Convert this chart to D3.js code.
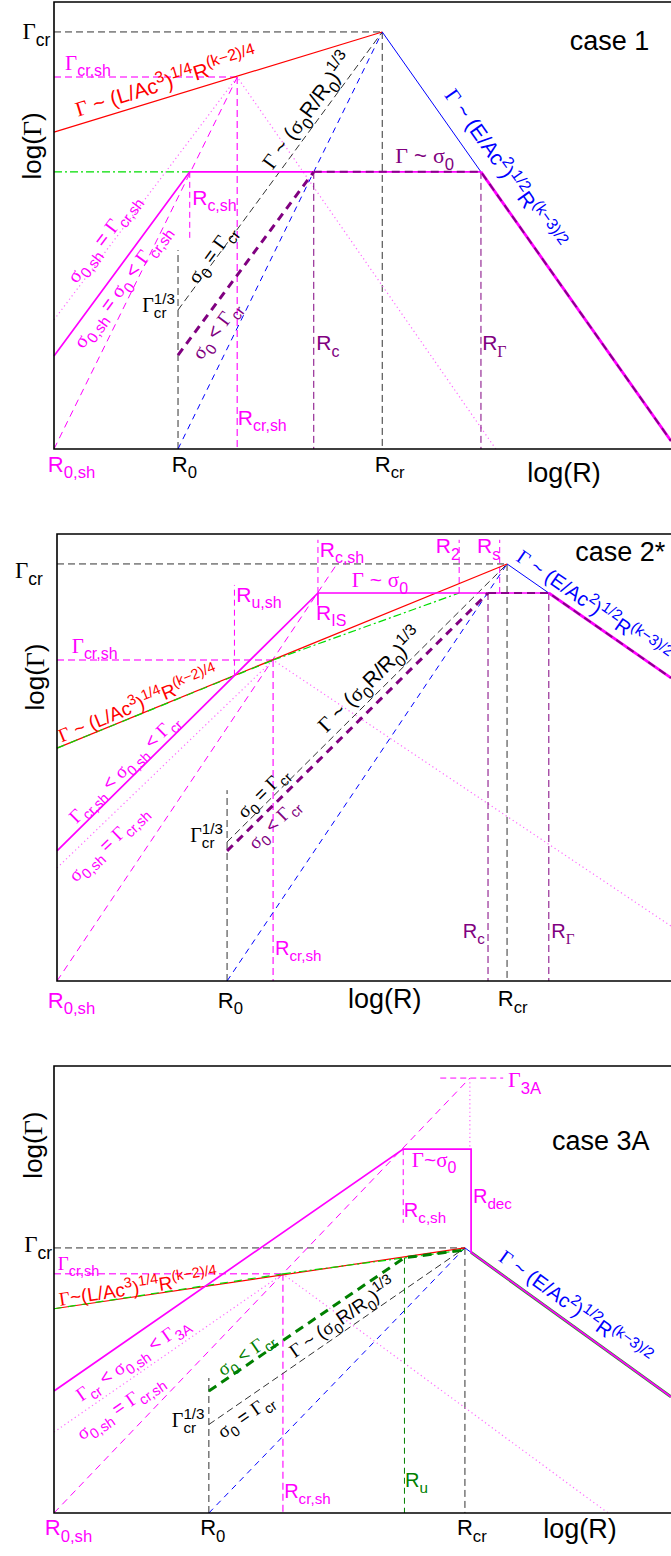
<!DOCTYPE html>
<html>
<head>
<meta charset="utf-8">
<script src="https://d3js.org/d3.v7.min.js"></script>
<style>
  body { margin: 0; background: #fff; }
  text { font-family: "Liberation Sans", Arial, sans-serif; white-space: pre; }
</style>
</head>
<body>
<script>
// schematic log(R) / log(Gamma) coordinates, 0..10 on both axes of each panel

// [key, style, points]
const case1Lines = [
  ['gcr', 'blackDash', [[0, 9.33], [5.32, 9.33]]],
  ['rcrV', 'blackDash', [[5.32, 9.33], [5.32, 0]]],
  ['gcrsh', 'pinkDash', [[0, 8.32], [2.97, 8.32]]],
  ['rcrshV', 'pinkDash', [[2.97, 8.32], [2.97, 0]]],
  ['rcshV', 'pinkDashThin', [[2.20, 6.20], [2.20, 4.68]]],
  ['green', 'greenDashDot', [[0, 6.20], [2.20, 6.20]]],
  ['dotted', 'magDot', [[0, 2.89], [2.97, 8.32], [7.16, 0]]],
  ['magDash', 'magDash', [[0, 0], [2.97, 8.32]]],
  ['r0V', 'blackDash', [[2.01, 0], [2.01, 4.45]]],
  ['blueDash', 'blueDash', [[2.01, 0], [5.32, 9.33]]],
  ['blackDiag', 'blackDash', [[2.01, 3.11], [5.32, 9.33]]],
  ['rcV', 'purpleDash', [[4.21, 6.20], [4.21, 0]]],
  ['rgV', 'purpleDash', [[6.92, 6.20], [6.92, 0]]],
  ['red', 'red', [[0, 7.09], [5.32, 9.33]]],
  ['blue', 'blue', [[5.32, 9.33], [6.92, 6.20], [10, 0.18]]],
  ['mag', 'magSolid', [[0, 2.08], [2.20, 6.20], [6.92, 6.20]]],
  ['magDesc', 'magThick', [[6.92, 6.20], [10, 0.18]]],
  ['purpleThick', 'purpleThick', [[2.01, 2.10], [4.21, 6.20]]],
  ['purpleOn', 'purpleOn', [[4.21, 6.20], [6.92, 6.20], [10, 0.18]]]
];

const case2Lines = [
  ['gcr', 'blackDash', [[0, 9.33], [7.33, 9.33]]],
  ['rcrV', 'blackDash', [[7.33, 9.33], [7.33, 0]]],
  ['gcrsh', 'pinkDash', [[0, 7.18], [3.52, 7.18]]],
  ['rcrshV', 'pinkDash', [[3.52, 7.18], [3.52, 0]]],
  ['rushV', 'pinkDashThin', [[2.89, 6.83], [2.89, 8.86]]],
  ['rcshV', 'pinkDashThin', [[4.25, 8.68], [4.25, 9.87]]],
  ['r2V', 'pinkDashThin', [[6.55, 8.68], [6.55, 9.87]]],
  ['rsV', 'pinkDashThin', [[7.21, 8.68], [7.21, 9.87]]],
  ['dotted', 'magDot', [[0, 2.53], [3.52, 7.18], [10, 1.23]]],
  ['magDash', 'magDash', [[0, 0], [4.56, 9.33]]],
  ['r0V', 'blackDash', [[2.77, 0], [2.77, 4.27]]],
  ['blueDash', 'blueDash', [[2.77, 0], [7.33, 9.33]]],
  ['blackDiag', 'blackDash', [[2.77, 3.11], [7.33, 9.33]]],
  ['rcV', 'purpleDash', [[7.02, 8.68], [7.02, 0]]],
  ['rgV', 'purpleDash', [[8.01, 8.68], [8.01, 0]]],
  ['red', 'red', [[0, 5.21], [7.33, 9.33]]],
  ['greenOnRed', 'greenDash', [[0, 5.21], [3.52, 7.18]]],
  ['green', 'greenDashDot', [[3.52, 7.18], [6.55, 8.68]]],
  ['blue', 'blue', [[7.33, 9.33], [8.01, 8.68], [10, 6.78]]],
  ['mag', 'magSolid', [[0, 2.91], [4.25, 8.68], [8.01, 8.68]]],
  ['magDesc', 'magThick', [[8.01, 8.68], [10, 6.78]]],
  ['risTick', 'magSolid', [[4.25, 8.68], [4.25, 8.40]]],
  ['purpleThick', 'purpleThick', [[2.77, 2.91], [7.02, 8.68]]],
  ['purpleOn', 'purpleOn', [[7.02, 8.68], [8.01, 8.68], [10, 6.78]]]
];

const case3Lines = [
  ['gcr', 'blackDash', [[0, 5.93], [6.66, 5.93]]],
  ['rcrV', 'blackDash', [[6.66, 5.93], [6.66, 0]]],
  ['gcrsh', 'pinkDash', [[0, 5.35], [3.71, 5.35]]],
  ['rcrshV', 'pinkDash', [[3.71, 5.35], [3.71, 0]]],
  ['g3a', 'pinkDashThin', [[6.26, 9.73], [7.28, 9.73]]],
  ['rcshV', 'pinkDashThin', [[5.66, 8.14], [5.66, 6.49]]],
  ['dotV', 'magDot', [[6.74, 9.73], [6.74, 8.14]]],
  ['dotted', 'magDot', [[0, 1.81], [3.71, 5.35], [8.98, 0]]],
  ['magDash', 'magDash', [[0, 0], [6.74, 9.73]]],
  ['r0V', 'blackDash', [[2.51, 0], [2.51, 3.02]]],
  ['blueDash', 'blueDash', [[2.51, 0], [6.66, 5.93]]],
  ['blackDiag', 'blackDash', [[2.51, 1.98], [6.66, 5.93]]],
  ['ruV', 'greenDashV', [[5.68, 5.71], [5.68, 0]]],
  ['red', 'red', [[0, 4.57], [6.66, 5.93]]],
  ['greenOnRed', 'greenDash', [[0, 4.57], [3.71, 5.35]]],
  ['green', 'greenDashDot', [[3.71, 5.35], [6.63, 5.88]]],
  ['greenThick', 'greenThick', [[2.51, 2.73], [5.68, 5.71], [6.63, 5.88]]],
  ['blue', 'blue', [[6.66, 5.93], [10, 2.60]]],
  ['greenDesc', 'greenUnder', [[6.76, 5.83], [10, 2.60]]],
  ['mag', 'magSolid', [[0, 2.73], [5.66, 8.14], [6.76, 8.14], [6.76, 5.83], [10, 2.60]]]
];

// [text, x, y, colour, size, anchor, angle or line key]
const labels1 = [
  ['Γ_{cr}', -0.06, 9.17, 'k', 23, 'end'],
  ['Γ_{cr,sh}', 0.18, 8.48, 'm', 21, 'start'],
  ['log(Γ)', -0.21, 6.78, 'k', 26, 'middle', -90],
  ['case 1', 8.36, 8.93, 'k', 27, 'start'],
  ['Γ ~ (L/Ac^{3})^{1/4}R^{(k−2)/4}', 1.85, 8.05, 'r', 21, 'middle', 'red'],
  ['Γ ~ (σ_{0}R/R_{0})^{1/3}', 4.20, 7.47, 'k', 21, 'middle', 'blackDiag'],
  ['Γ ~ (E/Ac^{2})^{1/2}R^{(k−3)/2}', 7.21, 6.17, 'b', 21, 'middle', 'blue'],
  ['Γ ~ σ_{0}', 5.53, 6.40, 'p', 22, 'start'],
  ['R_{c,sh}', 2.24, 5.46, 'm', 21, 'start'],
  ['σ_{0,sh} = Γ_{cr,sh}', 0.88, 4.63, 'm', 20, 'middle', 'dotted'],
  ['σ_{0,sh} = σ_{0} < Γ_{cr,sh}', 1.18, 3.56, 'm', 20, 'middle', 'mag'],
  ['σ_{0} = Γ_{cr}', 2.64, 4.27, 'k', 20, 'middle', 'blackDiag'],
  ['Γ_{cr}&{1/3}', 1.43, 3.06, 'k', 20, 'start'],
  ['σ_{0} < Γ_{cr}', 2.71, 2.57, 'p', 20, 'middle', 'purpleThick'],
  ['R_{c}', 4.25, 2.21, 'p', 21, 'start'],
  ['R_{Γ}', 6.94, 2.21, 'p', 21, 'start'],
  ['R_{cr,sh}', 2.98, 0.54, 'm', 21, 'start'],
  ['R_{0,sh}', -0.10, -0.51, 'm', 22, 'start'],
  ['R_{0}', 1.91, -0.51, 'k', 22, 'start'],
  ['R_{cr}', 5.20, -0.51, 'k', 22, 'start'],
  ['log(R)', 7.67, -0.74, 'k', 27, 'start']
];

const labels2 = [
  ['Γ_{cr}', -0.23, 9.02, 'k', 23, 'end'],
  ['log(Γ)', -0.21, 6.80, 'k', 26, 'middle', -90],
  ['Γ_{cr,sh}', 0.24, 7.34, 'm', 21, 'start'],
  ['R_{u,sh}', 2.92, 8.48, 'm', 21, 'start'],
  ['R_{c,sh}', 4.28, 9.49, 'm', 21, 'start'],
  ['R_{IS}', 4.22, 8.08, 'm', 21, 'start'],
  ['R_{2}', 6.17, 9.57, 'm', 21, 'start'],
  ['R_{s}', 6.84, 9.57, 'm', 21, 'start'],
  ['Γ ~ σ_{0}', 4.80, 8.81, 'm', 21, 'start'],
  ['case 2*', 8.44, 9.40, 'k', 27, 'start'],
  ['Γ ~ (L/Ac^{3})^{1/4}R^{(k−2)/4}', 1.36, 6.06, 'r', 19, 'middle', 'red'],
  ['Γ_{cr,sh} < σ_{0,sh} < Γ_{cr}', 1.16, 4.65, 'm', 19, 'middle', 'mag'],
  ['σ_{0,sh} = Γ_{cr,sh}', 0.90, 2.98, 'm', 19, 'middle', 'dotted'],
  ['Γ ~ (σ_{0}R/R_{0})^{1/3}', 5.18, 6.62, 'k', 21, 'middle', 'blackDiag'],
  ['σ_{0} = Γ_{cr}', 3.42, 4.12, 'k', 19, 'middle', 'blackDiag'],
  ['σ_{0} < Γ_{cr}', 3.60, 3.42, 'p', 19, 'middle', 'purpleThick'],
  ['Γ_{cr}&{1/3}', 2.17, 3.11, 'k', 20, 'start'],
  ['R_{cr,sh}', 3.55, 0.58, 'm', 20, 'start'],
  ['R_{c}', 6.61, 0.96, 'p', 20, 'start'],
  ['R_{Γ}', 8.05, 0.96, 'p', 20, 'start'],
  ['Γ ~ (E/Ac^{2})^{1/2}R^{(k−3)/2}', 7.46, 9.42, 'b', 20, 'start', 'blue'],
  ['R_{0,sh}', -0.15, -0.60, 'm', 22, 'start'],
  ['R_{0}', 2.62, -0.60, 'k', 22, 'start'],
  ['log(R)', 4.74, -0.60, 'k', 27, 'start'],
  ['R_{cr}', 7.18, -0.56, 'k', 22, 'start']
];

const labels3 = [
  ['Γ_{cr}', -0.03, 5.84, 'k', 23, 'end'],
  ['log(Γ)', -0.19, 8.23, 'k', 26, 'middle', -90],
  ['Γ_{cr,sh}', 0.06, 5.44, 'm', 19, 'start'],
  ['Γ~(L/Ac^{3})^{1/4}R^{(k−2)/4}', 1.38, 4.90, 'r', 19, 'middle', 'red'],
  ['Γ_{cr} < σ_{0,sh} < Γ_{3A}', 1.33, 3.33, 'm', 19, 'middle', 'mag'],
  ['σ_{0,sh} = Γ_{cr,sh}', 1.13, 2.26, 'm', 19, 'middle', 'dotted'],
  ['σ_{0} < Γ_{cr}', 3.16, 3.45, 'g', 19, 'middle', 'greenThick'],
  ['Γ ~ (σ_{0}R/R_{0})^{1/3}', 4.73, 4.25, 'k', 19, 'middle', 'blackDiag'],
  ['σ_{0} = Γ_{cr}', 3.16, 2.06, 'k', 19, 'middle', 'blackDiag'],
  ['Γ_{cr}&{1/3}', 1.91, 1.92, 'k', 20, 'start'],
  ['R_{cr,sh}', 3.73, 0.34, 'm', 20, 'start'],
  ['R_{u}', 5.69, 0.58, 'g', 20, 'start'],
  ['Γ~σ_{0}', 5.80, 7.74, 'm', 21, 'start'],
  ['R_{c,sh}', 5.67, 6.62, 'm', 20, 'start'],
  ['R_{dec}', 6.79, 6.94, 'm', 20, 'start'],
  ['Γ_{3A}', 7.36, 9.53, 'm', 22, 'start'],
  ['case 3A', 8.07, 8.12, 'k', 27, 'start'],
  ['Γ ~ (E/Ac^{2})^{1/2}R^{(k−3)/2}', 8.38, 4.47, 'b', 20, 'middle', 'blue'],
  ['R_{0,sh}', -0.15, -0.49, 'm', 22, 'start'],
  ['R_{0}', 2.37, -0.49, 'k', 22, 'start'],
  ['R_{cr}', 6.53, -0.49, 'k', 22, 'start'],
  ['log(R)', 7.93, -0.56, 'k', 27, 'start']
];

const colours = { k: '#000', m: '#ff00ff', r: '#ff0000', b: '#0000ff', p: '#800080', g: '#008000' };

const styles = {
  blackDash:    { c: '#333', w: 1, d: '7,4' },
  pinkDash:     { c: '#ff44ff', w: 1.5, d: '7,4' },
  pinkDashThin: { c: '#ff00ff', w: 1, d: '6,4' },
  magDash:      { c: '#ff00ff', w: 1, d: '7,5' },
  magDot:       { c: '#ff66ff', w: 1.2, d: '1.2,3' },
  blueDash:     { c: '#0000ff', w: 1, d: '6,5' },
  purpleDash:   { c: '#800080', w: 1, d: '7,4' },
  purpleThick:  { c: '#800080', w: 3, d: '8,6' },
  purpleOn:     { c: '#8a008a', w: 2, d: '8,5' },
  greenThick:   { c: '#008000', w: 3, d: '9,6' },
  greenDashV:   { c: '#008000', w: 1, d: '6,4' },
  greenUnder:   { c: '#338833', w: 3, d: null },
  red:          { c: '#ff0000', w: 1.2, d: null },
  greenDash:    { c: '#00dd00', w: 1.2, d: '8,6' },
  greenDashDot: { c: '#00dd00', w: 1.2, d: '8,3,2,3' },
  blue:         { c: '#0000ff', w: 1, d: null },
  magSolid:     { c: '#ff00ff', w: 1.7, d: null },
  magThick:     { c: '#ff00ff', w: 2.8, d: null }
};

const W = 671, H = 1556;
const panels = [
  { lines: case1Lines, labels: labels1, top: 2, bottom: 449, left: 54 },
  { lines: case2Lines, labels: labels2, top: 534, bottom: 981, left: 57 },
  { lines: case3Lines, labels: labels3, top: 1066, bottom: 1513, left: 54 }
];

const svg = d3.select('body').append('svg')
  .attr('width', W).attr('height', H);

// write "Γ_{cr}^{1/3}" style strings as tspans; & = superscript stacked over previous subscript
function rich(text, str, size) {
  const re = /([_^&])\{([^}]*)\}|([^_^&]+)/g;
  let m, cur = 0, prevSub = [];
  while ((m = re.exec(str)) !== null) {
    const kind = m[1] || '';
    const txt = kind ? m[2] : m[3];
    const lvl = kind === '_' ? 1 : kind ? -1 : 0;
    const fs = lvl ? size * 0.76 : size;
    const off = lvl > 0 ? size * 0.3 : lvl < 0 ? -size * 0.42 : 0;
    const dy = off - cur; cur = off;
    const dx = kind === '&' ? -d3.sum(prevSub, t => t.node().getComputedTextLength()) : 0;
    const made = [];
    txt.split(/([Γσ])/).filter(s => s).forEach((s, i) => {
      const t = text.append('tspan').text(s).style('font-size', fs + 'px');
      if (s === 'Γ' || s === 'σ') t.style('font-family', '"Liberation Serif", "Times New Roman", serif');
      if (i === 0) {
        if (dy) t.attr('dy', dy);
        if (dx) t.attr('dx', dx);
      }
      made.push(t);
    });
    prevSub = lvl > 0 ? made : [];
  }
}

panels.forEach(p => {
  const x = d3.scaleLinear().domain([0, 10]).range([p.left, 671]);
  const y = d3.scaleLinear().domain([0, 10]).range([p.bottom, p.top]);
  const line = d3.line().x(d => x(d[0])).y(d => y(d[1]));
  const g = svg.append('g');

  g.selectAll('path.mark')
    .data(p.lines)
    .enter()
    .append('path')
      .attr('class', 'mark')
      .attr('d', d => line(d[2]))
      .attr('fill', 'none')
      .attr('stroke', d => styles[d[1]].c)
      .attr('stroke-width', d => styles[d[1]].w)
      .attr('stroke-dasharray', d => styles[d[1]].d);

  // frame (right edge lies just outside the window)
  g.append('path')
    .attr('d', `M${x(10) + 6},${y(10)}H${x(0)}V${y(0)}H${x(10) + 6}`)
    .attr('fill', 'none')
    .attr('stroke', '#000')
    .attr('stroke-width', 1.6);

  const byKey = {};
  p.lines.forEach(l => byKey[l[0]] = l[2]);

  p.labels.forEach(l => {
    const [str, lx, ly, col, size, anchor, rot] = l;
    let angle = 0;
    if (typeof rot === 'number') angle = rot;
    else if (rot) {
      const pts = byKey[rot];
      angle = Math.atan2(y(pts[1][1]) - y(pts[0][1]), x(pts[1][0]) - x(pts[0][0])) * 180 / Math.PI;
    }
    const t = g.append('text')
      .attr('transform', `translate(${x(lx)},${y(ly)}) rotate(${angle})`)
      .attr('text-anchor', anchor)
      .attr('fill', colours[col])
      .style('font-size', size + 'px');
    rich(t, str, size);
  });
});
</script>
</body>
</html>
